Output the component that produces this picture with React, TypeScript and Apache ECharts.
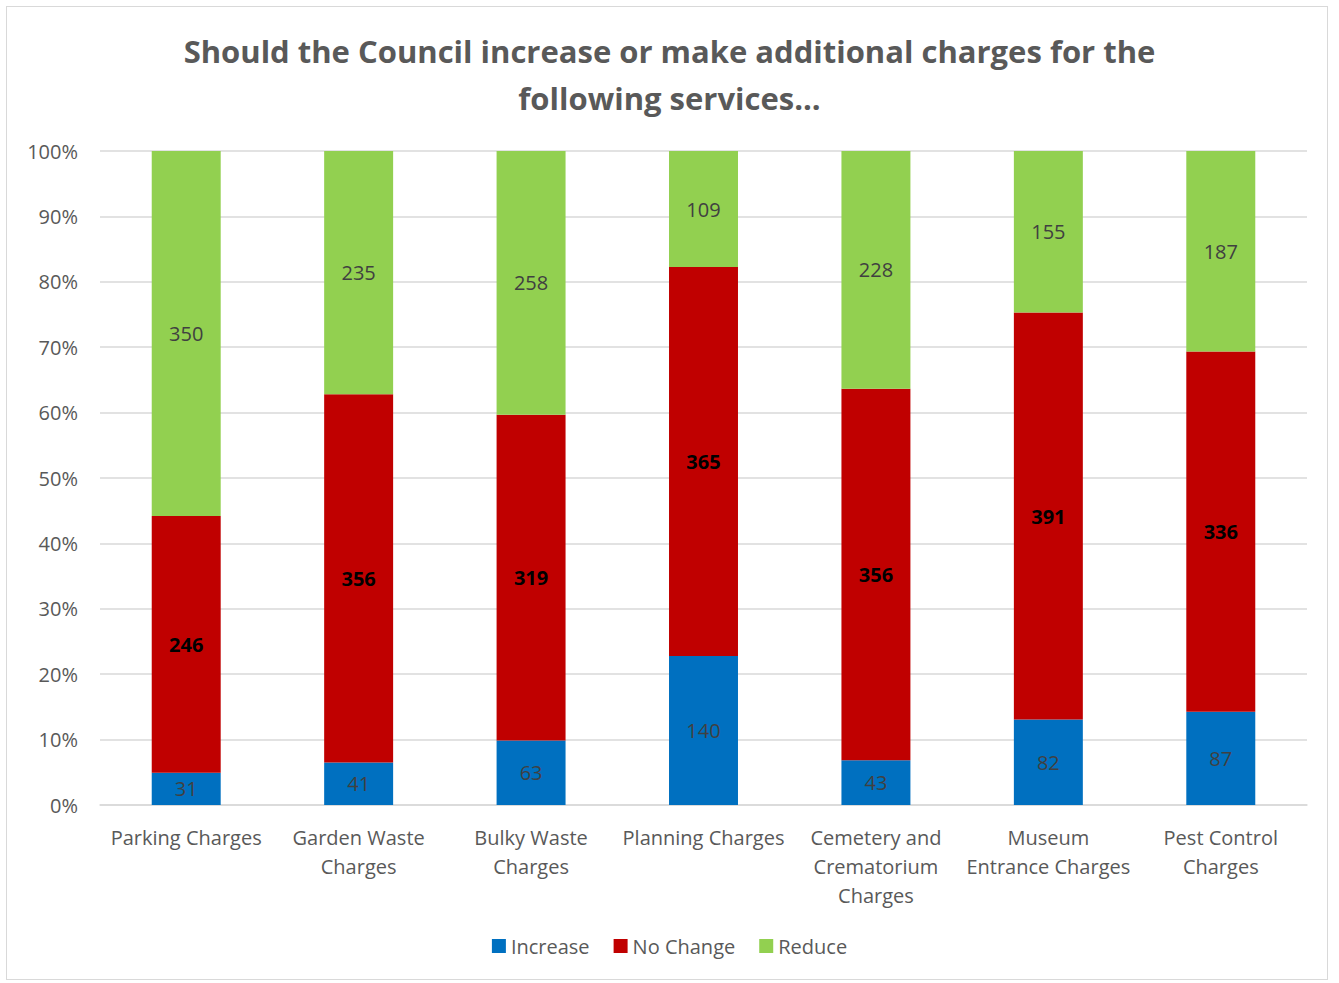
import React, { useEffect, useRef } from "react";
import * as echarts from "echarts";

const categories = [
  "Parking Charges",
  "Garden Waste\nCharges",
  "Bulky Waste\nCharges",
  "Planning Charges",
  "Cemetery and\nCrematorium\nCharges",
  "Museum\nEntrance Charges",
  "Pest Control\nCharges",
];
const increase = [31, 41, 63, 140, 43, 82, 87];
const noChange = [246, 356, 319, 365, 356, 391, 336];
const reduce = [350, 235, 258, 109, 228, 155, 187];
const yTicks = [0, 0.1, 0.2, 0.3, 0.4, 0.5, 0.6, 0.7, 0.8, 0.9, 1];

const FONT = "'Open Sans', 'Noto Sans', sans-serif";

export default function App() {
  const ref = useRef<HTMLDivElement>(null);
  useEffect(() => {
    if (!ref.current) return;
    const chart = echarts.init(ref.current, undefined, { renderer: "svg" });
    const totals = categories.map((_, i) => increase[i] + noChange[i] + reduce[i]);
    const mk = (arr: number[]) =>
      arr.map((v, i) => ({ value: v / totals[i], raw: v }));
    const labelFmt = (p: any) => String(p.data.raw);
    chart.setOption({
      animation: false,
      backgroundColor: "#ffffff",
      textStyle: { fontFamily: FONT },
      title: {
        text: "Should the Council increase or make additional charges for the\nfollowing services...",
        left: "center",
        top: 22,
        textStyle: {
          fontFamily: FONT,
          fontSize: 31,
          fontWeight: "bold",
          color: "#595959",
          lineHeight: 47,
        },
      },
      legend: {
        bottom: 22,
        left: "center",
        itemWidth: 14,
        itemHeight: 14,
        itemGap: 24,
        icon: "rect",
        textStyle: { fontFamily: FONT, fontSize: 20, color: "#595959" },
        data: ["Increase", "No Change", "Reduce"],
      },
      grid: { left: 100, right: 32, top: 151, bottom: 178 },
      xAxis: {
        type: "category",
        data: categories,
        axisLine: { show: true, lineStyle: { color: "#d9d9d9", width: 1.5 } },
        axisTick: { show: false },
        axisLabel: {
          fontFamily: FONT,
          fontSize: 20,
          color: "#595959",
          lineHeight: 29,
          margin: 18,
          interval: 0,
        },
      },
      yAxis: {
        type: "value",
        min: 0,
        max: 1,
        interval: 0.1,
        axisLine: { show: false },
        axisTick: { show: false },
        splitLine: { lineStyle: { color: "#d9d9d9", width: 1.5 } },
        axisLabel: {
          fontFamily: FONT,
          fontSize: 20,
          color: "#595959",
          margin: 22,
          formatter: (v: number) => {
            const t = yTicks.find((x) => Math.abs(x - v) < 1e-6);
            return Math.round((t ?? v) * 100) + "%";
          },
        },
      },
      series: [
        {
          name: "Increase",
          type: "bar",
          stack: "total",
          barWidth: "40%",
          data: mk(increase),
          itemStyle: { color: "#0070C0" },
          label: {
            show: true,
            position: "inside",
            formatter: labelFmt,
            fontFamily: FONT,
            fontSize: 20,
            color: "#404040",
          },
        },
        {
          name: "No Change",
          type: "bar",
          stack: "total",
          data: mk(noChange),
          itemStyle: { color: "#C00000" },
          label: {
            show: true,
            position: "inside",
            formatter: labelFmt,
            fontFamily: FONT,
            fontSize: 20,
            fontWeight: "bold",
            color: "#000000",
          },
        },
        {
          name: "Reduce",
          type: "bar",
          stack: "total",
          data: mk(reduce),
          itemStyle: { color: "#92D050" },
          label: {
            show: true,
            position: "inside",
            formatter: labelFmt,
            fontFamily: FONT,
            fontSize: 20,
            color: "#404040",
          },
        },
      ],
    });
    return () => chart.dispose();
  }, []);
  return (
    <div style={{ position: "fixed", left: 0, top: 0, width: 1339, height: 983, background: "#fff" }}>
      <div
        style={{
          position: "absolute",
          left: 6,
          top: 6,
          width: 1322,
          height: 974,
          border: "1px solid #d9d9d9",
          boxSizing: "border-box",
          pointerEvents: "none",
          zIndex: 2,
        }}
      />
      <div ref={ref} style={{ position: "absolute", left: 0, top: 0, width: 1339, height: 983 }} />
    </div>
  );
}
